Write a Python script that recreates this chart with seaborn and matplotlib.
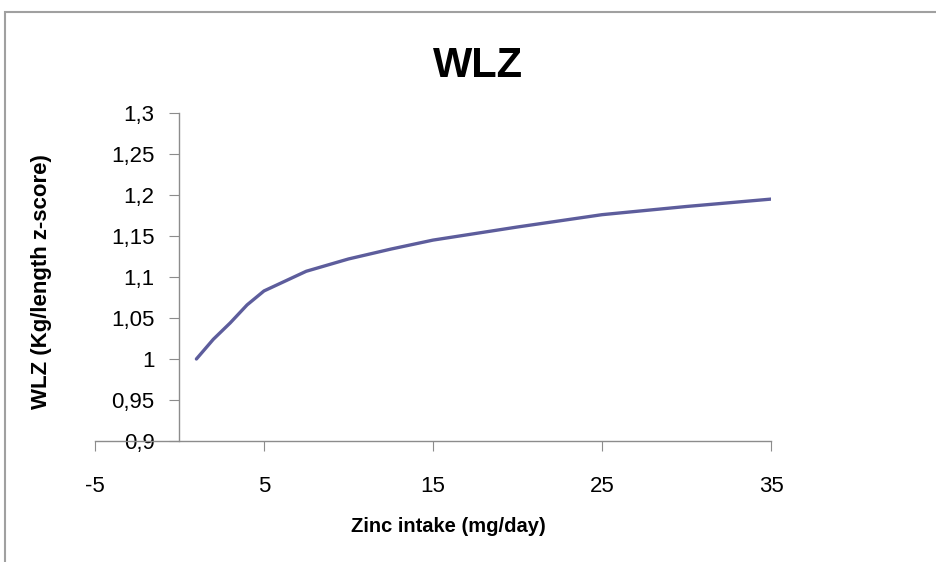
import matplotlib
matplotlib.use("Agg")
import matplotlib.pyplot as plt
import matplotlib.ticker as mticker
from matplotlib.patches import Rectangle
import pandas as pd
import seaborn as sns

zinc_intake = [1, 2, 3, 4, 5, 7.5, 10, 12.5, 15, 20, 25, 30, 35]
wlz = [1.0, 1.024, 1.044, 1.066, 1.083, 1.107, 1.122, 1.134, 1.145, 1.161, 1.176, 1.186, 1.195]
x_ticks = [-5, 5, 15, 25, 35]
y_ticks = [0.9, 0.95, 1.0, 1.05, 1.1, 1.15, 1.2, 1.25, 1.3]

sns.set_style("white")
plt.rcParams["font.family"] = ["Liberation Sans", "DejaVu Sans"]
plt.rcParams["axes.unicode_minus"] = False
plt.rcParams["text.color"] = "black"

W, H = 937, 562
fig = plt.figure(figsize=(W / 100, H / 100), dpi=100)
ax = fig.add_axes([95 / W, 121 / H, 676 / W, 328 / H])

df = pd.DataFrame({"zinc": zinc_intake, "wlz": wlz})
sns.lineplot(data=df, x="zinc", y="wlz", ax=ax, color="#5D5D9C", linewidth=2.4)

ax.set_xlim(-5, 35)
ax.set_ylim(0.9, 1.3)
ax.set_xticks(x_ticks)
ax.set_yticks(y_ticks)
ax.yaxis.set_major_formatter(mticker.FuncFormatter(lambda v, p: f"{v:g}".replace(".", ",")))

for s in ["top", "right"]:
    ax.spines[s].set_visible(False)
ax.spines["left"].set_position(("data", 0))
for s in ["left", "bottom"]:
    ax.spines[s].set_color("#8C8C8C")
    ax.spines[s].set_linewidth(1.0)
ax.tick_params(axis="both", colors="#8C8C8C", direction="out", labelcolor="black", labelsize=16)
ax.tick_params(axis="y", length=7, pad=11, left=True)
ax.tick_params(axis="x", length=7, pad=18, bottom=True)
ax.set_xlabel("")
ax.set_ylabel("")

fig.text(478 / W, 1 - 77 / H, "WLZ", ha="center", va="baseline",
         fontsize=30, fontweight="bold", color="black")
fig.text(448 / W, 1 - 532 / H, "Zinc intake (mg/day)", ha="center", va="baseline",
         fontsize=14.5, fontweight="bold", color="black")
fig.text(42 / W, 1 - 282 / H, "WLZ (Kg/length z-score)", ha="center", va="center",
         rotation=90, fontsize=16, fontweight="bold", color="black")

# chart area border
fig.patches.append(Rectangle((5 / W, -0.1), 1.2, 1 - 12 / H + 0.1, transform=fig.transFigure,
                             fill=False, edgecolor="#A0A0A0", linewidth=1.5))

fig.savefig("out.png", dpi=100)
